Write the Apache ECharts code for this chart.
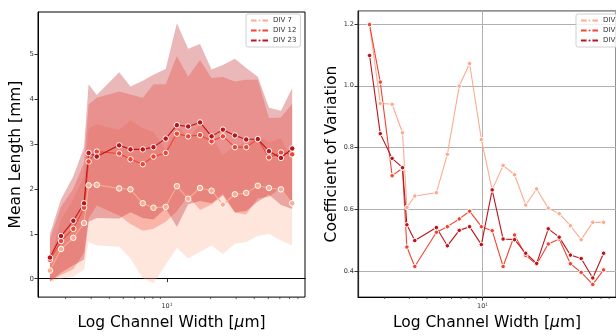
<!DOCTYPE html>
<html>
<head>
<meta charset="utf-8">
<script src="https://cdn.jsdelivr.net/npm/echarts@6/dist/echarts.min.js"></script>
<style>
html,body{margin:0;padding:0;background:#fff}
#chart{width:616px;height:336px}
</style>
</head>
<body>
<div id="chart"></div>
<script>
"use strict";
// channel widths (um)
var widths = [1.56,1.86,2.26,2.68,2.88,3.28,4.68,5.60,6.81,8.07,9.80,11.7,14.0,16.9,20.3,24.3,29.4,35.2,42.3,50.5,61.1,73.0];

// mean length [mm] and spread per DIV
var mean7  = [0.18,0.66,0.91,1.24,2.08,2.09,2.01,1.99,1.68,1.58,1.60,2.06,1.78,2.02,1.96,1.65,1.88,1.91,2.07,2.02,1.99,1.68];
var std7   = [0.25,0.66,0.86,1.04,1.26,1.35,1.30,1.54,1.67,1.68,1.29,1.37,1.33,1.42,1.22,1.10,1.10,1.09,1.12,1.02,1.14,0.94];
var mean12 = [0.42,0.84,1.11,1.58,2.61,2.83,2.79,2.66,2.55,2.72,2.80,3.23,3.17,3.20,3.06,3.17,2.93,2.93,3.11,2.70,2.81,2.77];
var std12  = [0.47,0.76,0.90,1.00,1.27,1.20,1.38,1.44,1.48,1.61,1.53,1.73,1.33,1.67,1.41,1.32,1.46,1.50,1.32,0.88,0.78,1.13];
var mean23 = [0.47,0.95,1.29,1.68,2.80,2.72,2.97,2.88,2.88,2.93,3.12,3.42,3.39,3.48,3.17,3.32,3.19,3.10,3.11,2.84,2.69,2.90];
var std23  = [0.53,0.82,0.99,1.25,1.53,1.37,1.63,1.40,1.53,1.61,1.55,2.27,1.73,1.75,1.49,1.44,1.71,1.59,1.39,0.97,1.05,1.35];

// coefficient of variation per DIV
var cv7  = [1.198,0.943,0.940,0.848,0.606,0.643,0.654,0.778,0.999,1.072,0.826,0.663,0.742,0.712,0.614,0.666,0.604,0.586,0.547,0.502,0.558,0.558];
var cv12 = [1.198,1.012,0.709,0.733,0.478,0.415,0.526,0.544,0.569,0.594,0.544,0.531,0.415,0.517,0.451,0.422,0.488,0.504,0.424,0.396,0.357,0.404];
var cv23 = [1.098,0.845,0.765,0.735,0.550,0.499,0.541,0.482,0.532,0.544,0.486,0.663,0.504,0.502,0.458,0.425,0.537,0.510,0.452,0.441,0.378,0.458];

var names = ['DIV 7','DIV 12','DIV 23'];
var colors = ['#fcab8f','#f14432','#bc141a'];
var minorTicks = [2,3,4,5,6,7,8,9,20,30,40,50,60,70,80];

var xMin = 1.29, xMax = 89.5;
var yMinL = -0.41, yMaxL = 5.94;
var yMinR = 0.316, yMaxR = 1.242;
var font = 'DejaVu Sans';

function pairs(ys){
    return widths.map(function(w,i){ return [w, ys[i]]; });
}

// mean +- std, drawn as one polygon through the axis scales
function band(mean, std, color){
    var rows = widths.map(function(w,i){ return [w, mean[i]-std[i], mean[i]+std[i]]; });
    return {
        type:'custom', xAxisIndex:0, yAxisIndex:0, silent:true, z:1,
        data:rows,
        renderItem:function(params, api){
            if(params.dataIndex !== 0) return null;
            var top = [], bot = [];
            for(var i=0;i<rows.length;i++){
                top.push(api.coord([rows[i][0], rows[i][2]]));
                bot.unshift(api.coord([rows[i][0], rows[i][1]]));
            }
            return {type:'polygon', shape:{points:top.concat(bot)},
                    style:{fill:color, opacity:0.3}};
        }
    };
}

function meanLine(name, ys, color, k, size){
    return {
        name:name, type:'line', xAxisIndex:k, yAxisIndex:k,
        data:pairs(ys), symbol:'circle', symbolSize:size,
        lineStyle:{color:color, width:1.1},
        itemStyle:{color:color, borderColor:'#fff', borderWidth:1},
        z:5
    };
}

function minorTickSeries(k, yMin){
    return {
        type:'custom', xAxisIndex:k, yAxisIndex:k, silent:true, clip:false,
        data:minorTicks.map(function(v){ return [v, yMin]; }),
        renderItem:function(params, api){
            var p = api.coord([api.value(0), api.value(1)]);
            return {type:'line', shape:{x1:p[0], y1:p[1], x2:p[0], y2:p[1]+2},
                    style:{stroke:'#333', lineWidth:0.8}};
        }
    };
}

function logAxis(k, showSplit){
    return {
        type:'log', logBase:10, gridIndex:k, min:xMin, max:xMax,
        name:'{n|Log Channel Width [}{m|μ}{n|m]}',
        nameLocation:'middle', nameGap:12,
        nameTextStyle:{rich:{
            n:{fontFamily:font, fontSize:15.5, color:'#000'},
            m:{fontFamily:font, fontSize:15.5, color:'#000', fontStyle:'italic'}
        }},
        axisLine:{lineStyle:{color:'#000', width:1}},
        axisTick:{length:3.5, lineStyle:{color:'#333'}},
        axisLabel:{
            showMinLabel:false, showMaxLabel:false, margin:5,
            fontFamily:font, fontSize:6.5, color:'#333',
            formatter:function(v){ return Math.abs(v-10) < 1e-6 ? '10{s|1}' : ''; },
            rich:{s:{fontSize:4.5, verticalAlign:'top', padding:[0,0,4,0], color:'#333'}}
        },
        splitLine:{show:showSplit, lineStyle:{color:'#b0b0b0', width:1}},
        minorTick:{show:false}
    };
}

var chart = echarts.init(document.getElementById('chart'), null, {renderer:'canvas'});

var series = [
    band(mean7, std7, colors[0]),
    band(mean12, std12, colors[1]),
    band(mean23, std23, colors[2]),
    meanLine(names[0], mean7, colors[0], 0, 5.5),
    meanLine(names[1], mean12, colors[1], 0, 5.5),
    meanLine(names[2], mean23, colors[2], 0, 5.5),
    meanLine(names[0], cv7, colors[0], 1, 4.5),
    meanLine(names[1], cv12, colors[1], 1, 4.5),
    meanLine(names[2], cv23, colors[2], 1, 4.5),
    minorTickSeries(0, yMinL),
    minorTickSeries(1, yMinR)
];

var legendBase = {
    data:names, orient:'vertical', top:14,
    itemWidth:17, itemHeight:5, itemGap:3, padding:[3,4,3,4],
    textStyle:{fontFamily:font, fontSize:7, color:'#333'},
    borderColor:'#d0d0d0', borderWidth:1, borderRadius:2,
    backgroundColor:'rgba(255,255,255,0.8)'
};

var option = {
    animation:false,
    backgroundColor:'#fff',
    grid:[
        {left:38, top:12, width:267, height:290, show:true, borderColor:'#000', borderWidth:1, backgroundColor:'transparent'},
        {left:358, top:11, width:267, height:291, show:true, borderColor:'#222', borderWidth:1, backgroundColor:'transparent'}
    ],
    legend:[
        echarts.util.extend({left:246}, legendBase),
        echarts.util.extend({left:576}, legendBase)
    ],
    xAxis:[logAxis(0, false), logAxis(1, true)],
    yAxis:[
        {
            type:'value', gridIndex:0, min:yMinL, max:yMaxL,
            name:'Mean Length [mm]', nameLocation:'middle', nameGap:14,
            nameTextStyle:{fontFamily:font, fontSize:15.5, color:'#000'},
            axisLine:{show:true, lineStyle:{color:'#000'}},
            axisTick:{show:true, length:3.5, lineStyle:{color:'#333'}},
            axisLabel:{showMinLabel:false, showMaxLabel:false, margin:4,
                fontFamily:font, fontSize:7, color:'#333',
                formatter:function(v){ return Math.abs(v-Math.round(v)) < 1e-6 ? String(Math.round(v)) : ''; }},
            splitLine:{show:false}
        },
        {
            type:'value', gridIndex:1, min:yMinR, max:yMaxR,
            name:'Coefficient of Variation', nameLocation:'middle', nameGap:12,
            nameTextStyle:{fontFamily:font, fontSize:15.5, color:'#000'},
            axisLine:{show:true, lineStyle:{color:'#222', width:1.2}},
            axisTick:{show:true, length:3.5, lineStyle:{color:'#333'}},
            axisLabel:{showMinLabel:false, showMaxLabel:false, margin:4,
                fontFamily:font, fontSize:6.5, color:'#333',
                formatter:function(v){ return v.toFixed(1); }},
            splitLine:{show:true, lineStyle:{color:'#b0b0b0', width:1}}
        }
    ],
    series:series
};
chart.setOption(option);
</script>
</body>
</html>
